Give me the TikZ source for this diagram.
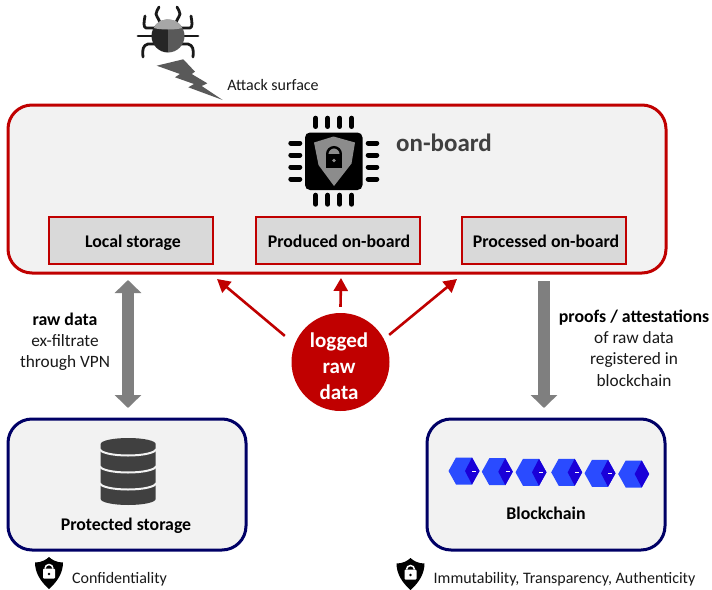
\documentclass[tikz,border=0pt]{standalone}
\usepackage{fontspec}
\setmainfont{Carlito}
\usetikzlibrary{arrows.meta}
\definecolor{dred}{HTML}{C00000}
\definecolor{navyb}{HTML}{000066}
\definecolor{panel}{HTML}{F2F2F2}
\definecolor{inner}{HTML}{D9D9D9}
\definecolor{arrowgrey}{HTML}{7F7F7F}
\definecolor{dbgrey}{HTML}{404040}
\definecolor{cubelight}{HTML}{2A4BFF}
\definecolor{cubedark}{HTML}{1A00D8}
\tikzset{
  x=1pt,y=-1pt,
  bigpanel/.style={draw=dred,line width=3pt,fill=panel,rounded corners=24pt},
  navypanel/.style={draw=navyb,line width=3pt,fill=panel,rounded corners=24pt},
  innerbox/.style={draw=dred,line width=2pt,fill=inner,minimum width=164pt,minimum height=47pt,inner sep=0pt},
  txt/.style={inner sep=0pt,anchor=base,font=\fontsize{16}{18}\selectfont,text=black!90},
  mtxt/.style={inner sep=0pt,anchor=base,font=\fontsize{17.3}{20}\selectfont,text=black!90},
  btxt/.style={inner sep=0pt,anchor=base,font=\bfseries\fontsize{17.8}{20}\selectfont,text=black},
  wtxt/.style={inner sep=0pt,anchor=base,text=white,font=\bfseries\fontsize{21}{26}\selectfont},
  redarrow/.style={draw=dred,line width=2.6pt,-{Triangle[length=13pt,width=14pt]}},
  greyarrow/.style={draw=arrowgrey,line width=12pt},
  greytip/.style={-{Triangle[length=13pt,width=26pt,fill=arrowgrey]}},
  pinline/.style={line width=5pt,line cap=round,draw=black},
  bugleg/.style={line width=2.8pt,draw=black!90,line cap=round,line join=round},
  cube/.pic={
    \fill[cubelight] (-15.5,0)--(-8,-13.5)--(8,-13.5)--(15.5,0)--(8,13.5)--(-8,13.5)--cycle;
    \fill[cubedark] (8,-13.5)--(15.5,0)--(8,13.5)--(1,0)--cycle;
  },
  minishield/.pic={
    \fill[black] (-14,-10.5)..controls (-8,-10.5) and (-3,-13)..(0,-16)..controls (3,-13) and (8,-10.5)..(14,-10.5)..controls (14,0) and (8,9)..(0,16)..controls (-8,9) and (-14,0)..(-14,-10.5)--cycle;
    \draw[white,line width=1.5pt] (-4,-4.5) arc[start angle=180,end angle=360,radius=4];
    \fill[white,rounded corners=1pt] (-6,-4.5) rectangle (6,5.5);
    \fill[black] (0,1) circle (1.3);
  }
}
\begin{document}
\begin{tikzpicture}
\useasboundingbox (0,0) rectangle (712,589);
\fill[white] (0,0) rectangle (712,589);

% main panel
\draw[bigpanel] (8,105) rectangle (666,273);
\coordinate (mainL) at (128,280);
\coordinate (mainR) at (544,281);
\node[innerbox] (local) at (131,240.5) {};
\node[innerbox] (prod) at (338,240.5) {};
\node[innerbox] (proc) at (544,240.5) {};
\node[btxt] (locallabel) at (133,247) {Local storage};
\node[btxt] (prodlabel) at (339,247) {Produced on-board};
\node[btxt] (proclabel) at (546,247) {Processed on-board};
\node[inner sep=0pt,anchor=base,text=dbgrey,font=\bfseries\fontsize{25}{28}\selectfont] (onboard) at (444,151) {on-board};

% chip
\foreach \px in {315.7,327.7,339.7,351.7}{
  \draw[pinline] (\px,118.2)--(\px,126.5);
  \draw[pinline] (\px,195.2)--(\px,204.2);
}
\foreach \py in {143,155,167,179}{
  \draw[pinline] (290.8,\py)--(299.8,\py);
  \draw[pinline] (368.2,\py)--(376.8,\py);
}
\fill[black,rounded corners=5pt] (305,132.5) rectangle (362.5,190);
\fill[black!45] (314,142.5)--(333.5,136.5)--(355,142.5)--(351.5,163.5)--(334,186)--(318.5,165)--cycle;
\draw[black,line width=2.4pt] (327.2,154) arc[start angle=180,end angle=360,radius=6.8];
\fill[black] (326,153.5) rectangle (342,167.5);
\fill[black!45] (334,160.5) circle (1.8);

% bug
\foreach \s in {1,-1}{
  \draw[bugleg] ({168+\s*8},26)..controls ({168+\s*7},21) and ({168+\s*11},18)..({168+\s*12},14)..controls ({168+\s*12},11) and ({168+\s*10},10)..({168+\s*9},7);
  \draw[bugleg] ({168+\s*11},28)--({168+\s*22},28)..controls ({168+\s*25},27) and ({168+\s*24},22)..({168+\s*23},16);
  \draw[bugleg] ({168+\s*12},36)--({168+\s*30},36);
  \draw[bugleg] ({168+\s*12},44)--({168+\s*20},44)..controls ({168+\s*25},45) and ({168+\s*26},50)..({168+\s*25},57);
}
\fill[black!85] (168,19.5) arc[start angle=-90,end angle=-270,radius=16.5];
\fill[black!65] (168,19.5) arc[start angle=-90,end angle=90,radius=16.5];
\fill[black!35] (153.8,28)..controls (156,22) and (162,19.5)..(168,19.5)..controls (174,19.5) and (180,22)..(182.2,28)..controls (176,30) and (160,30)..(153.8,28)--cycle;

% lightning
\fill[black!65] (156.7,65.7)--(183.3,59.3)--(195,71.7)--(191.7,74)--(207.3,83.3)--(201.7,86)--(222.7,100)--(188.3,87.3)--(194,84)--(175,77.3)--(180,74)--cycle;
\node[txt] (attack) at (273,90) {Attack surface};

% lower panels
\draw[navypanel] (8,419) rectangle (246,550);
\draw[navypanel] (427,419) rectangle (665,550);
\coordinate (protT) at (128,408);
\coordinate (chainT) at (544,408);

% database
\fill[dbgrey] (100.7,444) arc[start angle=180,end angle=360,x radius=27.5,y radius=6]--(155.7,499) arc[start angle=0,end angle=180,x radius=27.5,y radius=6]--cycle;
\foreach \yy in {449,466,483}{
  \draw[panel,line width=2pt] (100,\yy) arc[start angle=180,end angle=0,x radius=28,y radius=6.5];
}
\node[btxt] (protlabel) at (126,530) {Protected storage};

% blockchain cubes
\foreach \cx/\cy in {464/471,497.3/471.7,531/472.3,566.7/472.3,600/473.3,633.7/474}{
  \pic at (\cx,\cy) {cube};
}
\foreach \cx/\cy in {472/471,505.5/471.7,539/472.3,575/472.3,608/473.3}{
  \draw[white,line width=0.8pt] (\cx,\cy)--++(4,0);
}
\node[btxt] (chainlabel) at (546,519) {Blockchain};

% arrows
\node[circle,fill=dred,minimum size=98pt,inner sep=0pt] (logged) at (340.5,362) {};
\node[wtxt] (l1) at (339,347) {logged};
\node[wtxt] (l2) at (339,373) {raw};
\node[wtxt] (l3) at (339,399) {data};
\coordinate (tL) at (217,279);
\coordinate (tM) at (341,278);
\coordinate (tR) at (457,279);
\draw[redarrow] (logged.140) ++(-18,5.5) coordinate (sL) -- (tL);
\draw[redarrow] (logged.north) ++(0,-6) coordinate (sM) -- (tM);
\draw[redarrow] (logged.40) ++(11,4.5) coordinate (sR) -- (tR);

\draw[greyarrow,{Triangle[length=13pt,width=26pt,fill=arrowgrey]}-{Triangle[length=13pt,width=26pt,fill=arrowgrey]}] (mainL)--(protT);
\draw[greyarrow,greytip] (mainR)--(chainT);

% labels
\node[btxt] (rd1) at (65,325) {raw data};
\node[mtxt] (rd2) at (65,346) {ex-filtrate};
\node[mtxt] (rd3) at (65,367) {through VPN};
\node[btxt] (pa1) at (634,322) {proofs / attestations};
\node[mtxt] (pa2) at (634,343) {of raw data};
\node[mtxt] (pa3) at (634,364) {registered in};
\node[mtxt] (pa4) at (634,386) {blockchain};

% bottom
\pic at (49,573) {minishield};
\pic at (410.5,574) {minishield};
\node[txt] (conf) at (119.5,583) {Confidentiality};
\node[txt] (imm) at (564.5,583) {Immutability, Transparency, Authenticity};
\end{tikzpicture}
\end{document}
